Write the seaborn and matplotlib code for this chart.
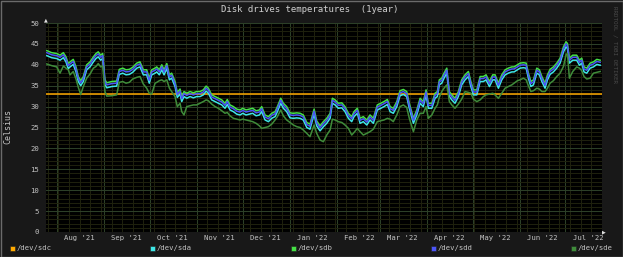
import pandas as pd
import matplotlib
matplotlib.use("Agg")
import matplotlib.pyplot as plt
import matplotlib.dates as mdates
import matplotlib.transforms as mtransforms
from matplotlib.patches import Rectangle
import seaborn as sns

# ---------------- data ----------------
start = pd.Timestamp("2021-07-25")
end = pd.Timestamp("2022-07-25")

days = [0.5, 3.7, 7.0, 9.2, 11.4, 13.1, 14.6, 15.8, 17.9, 19.7,
        21.2, 22.8, 24.5, 26.7, 28.9, 31.1, 32.8, 34.3, 35.9, 37.2,
        38.7, 39.9, 43.1, 46.4, 48.1, 50.4, 52.5, 54.7, 56.9, 59.6,
        61.7, 63.9, 66.1, 67.8, 69.4, 71.6, 72.7, 74.4, 76.0, 77.5,
        79.3, 81.0, 82.5, 84.7, 86.2, 88.0, 89.1, 90.6, 92.4, 94.6,
        96.7, 98.9, 101.1, 103.3, 105.1, 106.6, 108.8, 111.0, 113.1, 115.4,
        117.5, 119.0, 120.8, 123.0, 125.2, 127.4, 129.2, 131.3, 133.5, 135.7,
        137.9, 140.1, 141.6, 143.8, 146.0, 148.2, 150.4, 151.9, 154.1, 155.8,
        158.0, 160.2, 162.4, 164.6, 166.8, 168.9, 171.2, 173.3, 176.0, 177.7,
        179.9, 182.1, 184.3, 186.5, 188.0, 189.8, 191.9, 194.2, 196.3, 198.5,
        200.7, 202.2, 204.4, 206.2, 208.3, 210.6, 212.7, 214.9, 217.5, 219.8,
        221.9, 224.1, 225.9, 228.0, 230.3, 232.4, 234.6, 236.8, 238.5, 241.2,
        243.4, 245.6, 247.7, 249.5, 251.0, 253.3, 255.4, 256.9, 258.2, 259.8,
        261.3, 263.1, 264.8, 266.4, 268.5, 270.7, 272.9, 275.1, 277.3, 278.9,
        280.6, 282.8, 285.0, 287.1, 288.9, 291.1, 293.3, 294.8, 297.0, 299.2,
        301.4, 303.5, 305.8, 307.3, 309.5, 311.2, 313.4, 315.2, 316.7, 318.3,
        320.0, 322.2, 323.9, 325.5, 327.6, 329.2, 330.9, 333.1, 335.3, 337.5,
        339.7, 341.4, 342.3, 343.6, 345.8, 348.4, 350.2, 351.7, 353.2, 355.0,
        357.2, 359.4, 361.6, 363.8]

sdb = [43.4, 42.9, 42.7, 42.3, 42.9, 41.9, 40.3, 40.7, 41.3, 39.5,
       37.2, 36.2, 37.2, 40.0, 40.7, 41.9, 42.7, 43.1, 42.3, 42.7,
       36.4, 35.7, 36.0, 36.1, 38.9, 39.2, 38.8, 38.9, 39.4, 40.4,
       40.7, 38.8, 38.8, 36.8, 38.8, 39.2, 39.5, 38.8, 40.0, 38.8,
       40.3, 37.6, 38.0, 36.0, 33.4, 34.2, 32.4, 33.6, 33.2, 33.6,
       33.3, 33.6, 33.6, 34.0, 34.9, 34.4, 32.8, 32.4, 32.0, 31.6,
       30.8, 31.7, 30.4, 30.0, 29.4, 29.2, 29.6, 29.2, 29.4, 29.6,
       29.0, 29.2, 30.0, 28.0, 27.6, 28.4, 28.8, 30.0, 32.0, 30.8,
       30.0, 28.5, 28.4, 28.5, 28.4, 28.0, 26.2, 25.8, 29.4, 26.6,
       25.4, 26.4, 27.2, 28.4, 32.0, 31.6, 30.8, 30.9, 30.0, 28.4,
       27.6, 28.8, 29.6, 27.2, 27.6, 26.8, 28.0, 27.2, 30.4, 30.8,
       31.2, 31.7, 30.0, 29.6, 31.2, 33.8, 34.1, 33.6, 30.8, 27.2,
       29.2, 32.0, 31.2, 34.0, 30.8, 30.8, 33.2, 33.6, 36.4, 36.8,
       38.0, 39.2, 33.6, 32.8, 32.0, 33.6, 36.4, 37.6, 38.4, 36.0,
       34.0, 34.0, 37.2, 37.2, 37.6, 36.0, 37.6, 37.6, 35.6, 37.6,
       38.8, 39.2, 39.5, 39.5, 40.0, 40.4, 40.5, 40.4, 38.0, 36.0,
       36.4, 39.2, 38.8, 37.2, 35.6, 37.6, 38.9, 39.5, 40.4, 41.6,
       44.3, 45.5, 45.1, 41.6, 42.3, 42.3, 41.1, 41.6, 39.5, 39.2,
       40.4, 40.7, 41.3, 41.1]

sdd = [42.9, 42.4, 42.2, 41.8, 42.4, 41.4, 39.8, 40.2, 40.8, 39.0,
       36.7, 35.7, 36.7, 39.5, 40.2, 41.4, 42.2, 42.6, 41.8, 42.2,
       35.9, 35.2, 35.5, 35.6, 38.4, 38.7, 38.3, 38.4, 38.9, 39.9,
       40.2, 38.3, 38.3, 36.3, 38.3, 38.7, 39.0, 38.3, 39.5, 38.3,
       39.8, 37.1, 37.5, 35.5, 32.9, 33.7, 31.9, 33.1, 32.7, 33.1,
       32.8, 33.1, 33.1, 33.5, 34.4, 33.9, 32.3, 31.9, 31.5, 31.1,
       30.3, 31.2, 29.9, 29.5, 28.9, 28.7, 29.1, 28.7, 28.9, 29.1,
       28.5, 28.7, 29.5, 27.5, 27.1, 27.9, 28.3, 29.5, 31.5, 30.3,
       29.5, 28.0, 27.9, 28.0, 27.9, 27.5, 25.7, 25.3, 28.9, 26.1,
       24.9, 25.9, 26.7, 27.9, 31.5, 31.1, 30.3, 30.4, 29.5, 27.9,
       27.1, 28.3, 29.1, 26.7, 27.1, 26.3, 27.5, 26.7, 29.9, 30.3,
       30.7, 31.2, 29.5, 29.1, 30.7, 33.3, 33.6, 33.1, 30.3, 26.7,
       28.7, 31.5, 30.7, 33.5, 30.3, 30.3, 32.7, 33.1, 35.9, 36.3,
       37.5, 38.7, 33.1, 32.3, 31.5, 33.1, 35.9, 37.1, 37.9, 35.5,
       33.5, 33.5, 36.7, 36.7, 37.1, 35.5, 37.1, 37.1, 35.1, 37.1,
       38.3, 38.7, 39.0, 39.0, 39.5, 39.9, 40.0, 39.9, 37.5, 35.5,
       35.9, 38.7, 38.3, 36.7, 35.1, 37.1, 38.4, 39.0, 39.9, 41.1,
       43.8, 45.0, 44.6, 41.1, 41.8, 41.8, 40.6, 41.1, 39.0, 38.7,
       39.9, 40.2, 40.8, 40.6]

sda = [42.2, 41.7, 41.5, 41.1, 41.7, 40.7, 39.1, 39.5, 40.1, 38.3,
       36.0, 35.0, 36.0, 38.8, 39.5, 40.7, 41.5, 41.9, 41.1, 41.5,
       35.2, 34.5, 34.8, 34.9, 37.7, 38.0, 37.6, 37.7, 38.2, 39.2,
       39.5, 37.6, 37.6, 35.6, 37.6, 38.0, 38.3, 37.6, 38.8, 37.6,
       39.1, 36.4, 36.8, 34.8, 32.2, 33.0, 31.2, 32.4, 32.0, 32.4,
       32.1, 32.4, 32.4, 32.8, 33.7, 33.2, 31.6, 31.2, 30.8, 30.4,
       29.6, 30.5, 29.2, 28.8, 28.2, 28.0, 28.4, 28.0, 28.2, 28.4,
       27.8, 28.0, 28.8, 26.8, 26.4, 27.2, 27.6, 28.8, 30.8, 29.6,
       28.8, 27.3, 27.2, 27.3, 27.2, 26.8, 25.0, 24.6, 28.2, 25.4,
       24.2, 25.2, 26.0, 27.2, 30.8, 30.4, 29.6, 29.7, 28.8, 27.2,
       26.4, 27.6, 28.4, 26.0, 26.4, 25.6, 26.8, 26.0, 29.2, 29.6,
       30.0, 30.5, 28.8, 28.4, 30.0, 32.6, 32.9, 32.4, 29.6, 26.0,
       28.0, 30.8, 30.0, 32.8, 29.6, 29.6, 32.0, 32.4, 35.2, 35.6,
       36.8, 38.0, 32.4, 31.6, 30.8, 32.4, 35.2, 36.4, 37.2, 34.8,
       32.8, 32.8, 36.0, 36.0, 36.4, 34.8, 36.4, 36.4, 34.4, 36.4,
       37.6, 38.0, 38.3, 38.3, 38.8, 39.2, 39.3, 39.2, 36.8, 34.8,
       35.2, 38.0, 37.6, 36.0, 34.4, 36.4, 37.7, 38.3, 39.2, 40.4,
       43.1, 44.3, 43.9, 40.4, 41.1, 41.1, 39.9, 40.4, 38.3, 38.0,
       39.2, 39.5, 40.1, 39.9]

sde = [40.2, 39.8, 39.5, 38.0, 39.7, 39.2, 38.8, 37.6, 38.4, 36.6,
       34.6, 32.9, 34.8, 36.8, 37.8, 39.2, 39.6, 40.3, 39.5, 39.7,
       33.6, 32.5, 32.6, 32.8, 35.8, 36.0, 35.6, 35.8, 36.6, 37.0,
       37.2, 35.4, 34.4, 33.2, 33.0, 35.6, 35.8, 36.2, 36.4, 36.0,
       36.4, 34.4, 33.6, 32.4, 30.0, 30.8, 28.8, 28.0, 30.0, 30.2,
       30.4, 30.4, 30.8, 31.2, 31.6, 31.4, 30.6, 30.0, 29.6, 29.0,
       28.4, 28.6, 27.8, 27.2, 27.0, 26.8, 27.0, 26.8, 26.6, 26.4,
       26.0, 25.4, 24.8, 25.0, 25.2, 25.8, 26.8, 27.6, 29.2, 27.8,
       26.8, 26.2, 25.6, 25.2, 25.0, 24.4, 23.6, 22.8, 25.6, 23.6,
       22.0, 21.6, 23.2, 24.4, 27.0, 26.8, 26.4, 26.2, 25.6, 24.8,
       23.2, 23.8, 24.8, 24.0, 23.2, 23.6, 24.0, 24.6, 26.4, 26.6,
       26.8, 27.2, 27.0, 26.4, 28.0, 30.0, 30.4, 29.8, 27.2, 24.0,
       26.8, 28.4, 28.4, 30.0, 27.2, 28.0, 29.6, 30.4, 32.2, 33.6,
       34.4, 35.2, 31.2, 30.4, 29.6, 30.6, 31.8, 33.6, 33.4, 33.2,
       31.8, 31.2, 31.6, 32.4, 32.8, 33.0, 33.2, 32.8, 32.0, 33.2,
       34.4, 34.8, 35.2, 35.6, 36.2, 36.4, 36.8, 36.4, 35.0, 33.6,
       33.8, 34.4, 34.2, 33.6, 33.6, 34.4, 35.6, 36.2, 37.2, 38.0,
       39.6, 42.4, 42.7, 36.8, 38.4, 39.5, 39.2, 38.6, 37.2, 36.6,
       36.8, 38.0, 38.2, 38.4]

sdc_days = [0, 365]
sdc = [33.0, 33.0]

drives = ["/dev/sdc", "/dev/sda", "/dev/sdb", "/dev/sdd", "/dev/sde"]
colors = ["#ffaa00", "#3ee6e6", "#44e044", "#4b55f8", "#3f8c3a"]
month_labels = ["Aug '21", "Sep '21", "Oct '21", "Nov '21", "Dec '21", "Jan '22",
                "Feb '22", "Mar '22", "Apr '22", "May '22", "Jun '22", "Jul '22"]
month_mid = ["2021-08-16", "2021-09-16", "2021-10-16", "2021-11-16", "2021-12-16",
             "2022-01-16", "2022-02-16", "2022-03-16", "2022-04-16", "2022-05-16",
             "2022-06-16", "2022-07-16"]
title = "Disk drives temperatures  (1year)"
ylabel = "Celsius"

# ---------------- frame ----------------
series = [(drives[0], sdc_days, sdc), (drives[1], days, sda), (drives[2], days, sdb),
          (drives[3], days, sdd), (drives[4], days, sde)]
frames = []
for name, d, v in series:
    frames.append(pd.DataFrame({"date": start + pd.to_timedelta(d, unit="D"),
                                "temp": v, "drive": name}))
df = pd.concat(frames, ignore_index=True)

# ---------------- plot ----------------
W, H = 623, 257
fig = plt.figure(figsize=(W / 100, H / 100), dpi=100)
fig.patch.set_facecolor("#181818")
mono = "DejaVu Sans Mono"
txt = "#c4c4c4"

ax = fig.add_axes([46 / W, 1 - 232 / H, (602 - 46) / W, (232 - 23) / H])
ax.set_facecolor("#000000")

sns.lineplot(data=df, x="date", y="temp", hue="drive", hue_order=drives,
             palette=dict(zip(drives, colors)), legend=False, linewidth=1.1,
             estimator=None, ax=ax)

ax.set_xlim(start, end)
ax.set_ylim(0, 50)
ax.xaxis.set_major_locator(mdates.MonthLocator())
ax.xaxis.set_minor_locator(mdates.WeekdayLocator(byweekday=mdates.MO))
ax.xaxis.set_major_formatter(plt.NullFormatter())
ax.set_yticks(range(0, 51, 5))
ax.set_yticks(range(0, 51, 1), minor=True)
ax.set_axisbelow(True)
ax.grid(which="minor", color="#1f220e", linewidth=0.7)
ax.grid(which="major", color="#2c3f27", linewidth=0.75)
ax.tick_params(which="both", length=0)
ax.tick_params(axis="y", labelsize=5.2, labelcolor=txt, pad=5)
for lab in ax.get_yticklabels():
    lab.set_fontfamily(mono)
ax.set_xlabel("")
ax.set_ylabel("")
for s in ax.spines.values():
    s.set_visible(False)

trans = mtransforms.blended_transform_factory(ax.transData, ax.transAxes)
for lab, m in zip(month_labels, month_mid):
    ax.text(pd.Timestamp(m), -6 / 209, lab, transform=trans, ha="center", va="center",
            fontsize=5.2, color=txt, family=mono)

fig.text(310 / W, 1 - 9.5 / H, title, ha="center", va="center", fontsize=6.5,
         color="#d0d0d0", family=mono)
fig.text(8 / W, 1 - 126 / H, ylabel, ha="center", va="center", rotation=90,
         fontsize=6, color=txt, family=mono)
fig.text(615 / W, 1 - 45 / H, "RRDTOOL / TOBI OETIKER", ha="center", va="center",
         rotation=270, fontsize=4.2, color="#4a4a4a", family=mono)

# arrows
fig.text(46 / W, 1 - 20 / H, "\u25b2", ha="center", va="center", fontsize=3.5,
         color="#e0e0e0", family="DejaVu Sans")
fig.text(604 / W, 1 - 232 / H, "\u25b6", ha="center", va="center", fontsize=3.5,
         color="#e0e0e0", family="DejaVu Sans")

# legend
leg_x = [12, 152, 293, 433, 573]
for x, name, c in zip(leg_x, drives, colors):
    fig.patches.append(Rectangle(((x - 2.5) / W, 1 - 250.5 / H), 5 / W, 5 / H,
                                 transform=fig.transFigure, facecolor=c,
                                 edgecolor="#222222", linewidth=0.4))
    fig.text((x + 5) / W, 1 - 248 / H, name, ha="left", va="center", fontsize=5.2,
             color=txt, family=mono)

# outer frame
fig.patches.append(Rectangle((0.5 / W, 0.5 / H), 1 - 1 / W, 1 - 1 / H,
                             transform=fig.transFigure, facecolor="none",
                             edgecolor="#6a6a6a", linewidth=1.0))

fig.savefig("out.png", dpi=100, facecolor=fig.get_facecolor())
